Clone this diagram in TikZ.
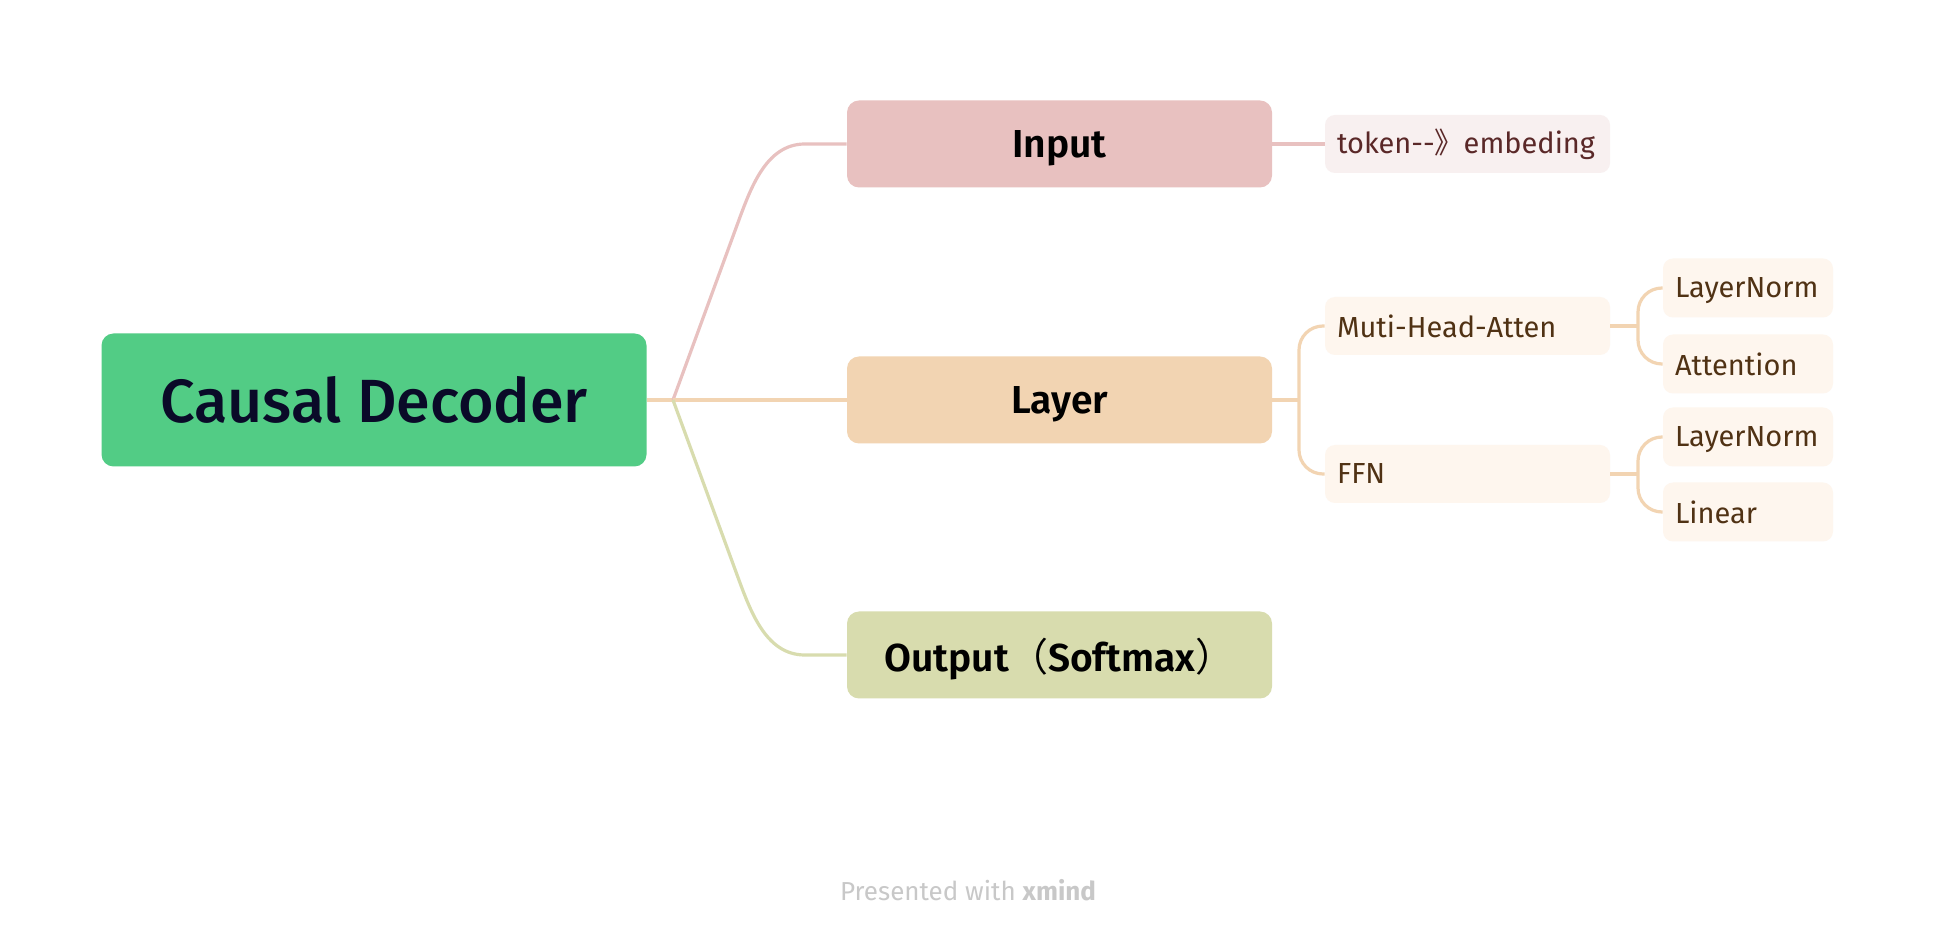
\documentclass[tikz,border=0pt]{standalone}
\usepackage{fontspec}
\setmainfont{Fira Sans}
\newfontfamily\medfont{Fira Sans Medium}
\newfontfamily\semifont{Fira Sans SemiBold}
\newfontfamily\cjk{Noto Sans CJK SC}
\definecolor{rootfill}{RGB}{82,204,133}
\definecolor{roottext}{RGB}{10,10,40}
\definecolor{inputfill}{RGB}{232,193,192}
\definecolor{layerfill}{RGB}{242,212,178}
\definecolor{outputfill}{RGB}{216,220,174}
\definecolor{inputsub}{RGB}{248,240,240}
\definecolor{layersub}{RGB}{254,246,238}
\definecolor{inputtext}{RGB}{90,40,40}
\definecolor{layertext}{RGB}{80,50,20}
\definecolor{footgray}{RGB}{200,200,200}
\tikzset{
  rootbox/.style={fill=rootfill, text=roottext, rounded corners=6pt, minimum width=272.5pt, minimum height=66.5pt, font=\medfont\fontsize{30.5}{36}\selectfont},
  mainbox/.style={fill=#1, rounded corners=6pt, minimum width=212.5pt, minimum height=43.5pt, text depth=0pt, font=\semifont\fontsize{19.5}{24}\selectfont},
  subbox/.style={fill=#1, rounded corners=5pt, minimum height=29pt, inner xsep=6pt, text width=130.5pt, align=left, font=\fontsize{14.5}{17}\selectfont},
  leafbox/.style={fill=layersub, text=layertext, rounded corners=5pt, minimum height=29.5pt, inner xsep=6pt, text width=73pt, text depth=0pt, align=left, font=\fontsize{14.5}{17}\selectfont},
  link/.style={draw=#1, line width=1.6pt},
}
\begin{document}
\begin{tikzpicture}[x=0.5pt,y=0.5pt,yscale=-1,xscale=1]
\useasboundingbox[fill=white] (0,0) rectangle (1934,940);

%Root
\node[rootbox] (root) at (374,400) {Causal Decoder};

%Main topics
\node[mainbox=inputfill] (input) at (1059.5,144) {Input};
\node[mainbox=layerfill] (layer) at (1059.5,400) {Layer};
\node[mainbox=outputfill] (output) at (1059.5,655) {Output{\cjk （}Softmax{\cjk ）}};

%Subtopics
\node[subbox=inputsub, text=inputtext] (token) at (1467.5,144) {token-{}-{\cjk 》}embeding};
\node[subbox=layersub, text=layertext] (mha) at (1467.5,326) {Muti-Head-Atten};
\node[subbox=layersub, text=layertext] (ffn) at (1467.5,474) {FFN};

\node[leafbox] (normA) at (1748,288) {LayerNorm};
\node[leafbox] (attn) at (1748,364) {Attention};
\node[leafbox] (normB) at (1748,437) {LayerNorm};
\node[leafbox] (linear) at (1748,512) {Linear};

%Curve Lines from root
\coordinate (fork) at (673,400);
\draw[link=layerfill] (root.east) -- (fork);
\draw[link=inputfill] (fork) -- (736,228) .. controls (750,190) and (765,144) .. (805,144) -- (input.west);
\draw[link=layerfill] (fork) -- (layer.west);
\draw[link=outputfill] (fork) -- (736,572) .. controls (750,610) and (765,655) .. (805,655) -- (output.west);

%Input branch
\draw[link=inputfill] (input.east) -- (token.west);

%Layer branch
\coordinate (layerfork) at (1299,400);
\draw[link=layerfill] (layer.east) -- (layerfork);
\draw[link=layerfill, rounded corners=12pt] (mha.west) -- (layerfork |- mha.west) -- (layerfork |- ffn.west) -- (ffn.west);

\coordinate (mhafork) at (1638,326);
\draw[link=layerfill] (mha.east) -- (mhafork);
\draw[link=layerfill, rounded corners=12pt] (normA.west) -- (mhafork |- normA.west) -- (mhafork |- attn.west) -- (attn.west);

\coordinate (ffnfork) at (1638,474);
\draw[link=layerfill] (ffn.east) -- (ffnfork);
\draw[link=layerfill, rounded corners=12pt] (normB.west) -- (ffnfork |- normB.west) -- (ffnfork |- linear.west) -- (linear.west);

%Footer
\node[text=footgray, font=\fontsize{13}{16}\selectfont] (footer) at (968,890) {Presented with \textbf{xmind}};

\end{tikzpicture}
\end{document}
